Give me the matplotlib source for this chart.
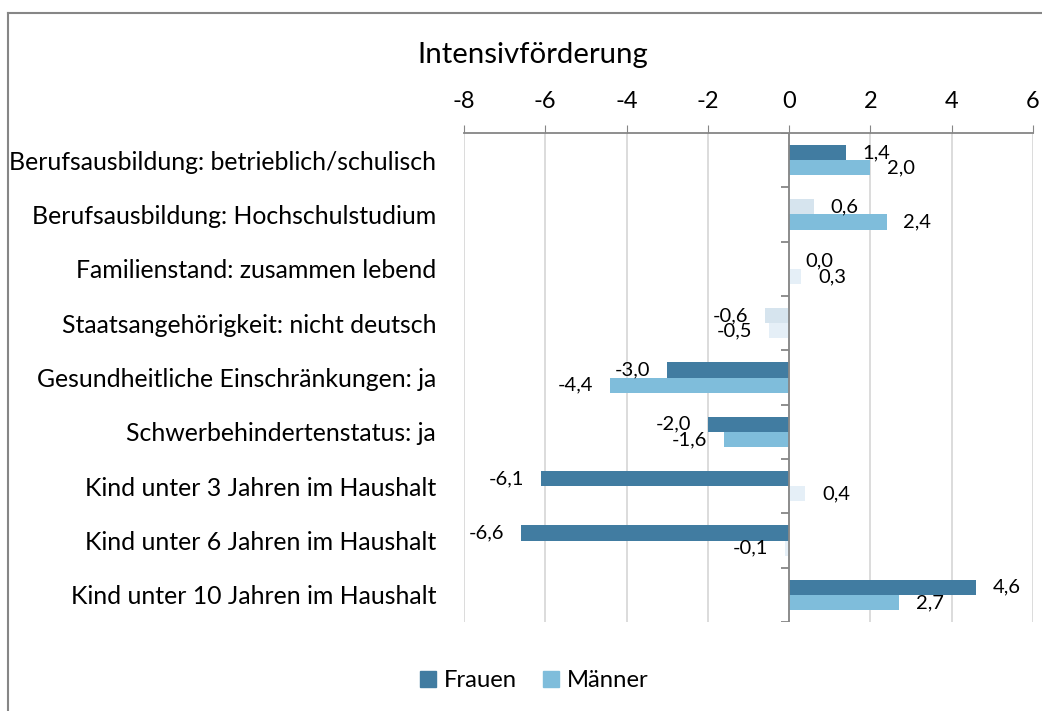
import matplotlib
matplotlib.use("Agg")
import matplotlib.pyplot as plt
from matplotlib.lines import Line2D
from matplotlib.patches import Patch
import numpy as np

plt.rcParams['font.family'] = ['Lato', 'DejaVu Sans']
plt.rcParams['axes.unicode_minus'] = False

categories = [
    "Berufsausbildung: betrieblich/schulisch",
    "Berufsausbildung: Hochschulstudium",
    "Familienstand: zusammen lebend",
    "Staatsangehörigkeit: nicht deutsch",
    "Gesundheitliche Einschränkungen: ja",
    "Schwerbehindertenstatus: ja",
    "Kind unter 3 Jahren im Haushalt",
    "Kind unter 6 Jahren im Haushalt",
    "Kind unter 10 Jahren im Haushalt",
]
frauen = [1.4, 0.6, 0.0, -0.6, -3.0, -2.0, -6.1, -6.6, 4.6]
maenner = [2.0, 2.4, 0.3, -0.5, -4.4, -1.6, 0.4, -0.1, 2.7]
# significant effects are drawn in full colour, the rest pale
frauen_sig = [True, False, False, False, True, True, True, True, True]
maenner_sig = [True, True, False, False, True, True, False, False, True]

c_frauen = "#417CA1"
c_maenner = "#7FBDDB"
c_frauen_pale = "#D6E4EE"
c_maenner_pale = "#E5EFF7"

fig = plt.figure(figsize=(10.42, 7.11), dpi=100)
ax = fig.add_axes([0.4453, 0.125, 0.9914 - 0.4453, 0.813 - 0.125])

y = np.arange(len(categories))
h = 0.28

cols_f = [c_frauen if s else c_frauen_pale for s in frauen_sig]
cols_m = [c_maenner if s else c_maenner_pale for s in maenner_sig]
ax.barh(y - h / 2, frauen, height=h, color=cols_f, zorder=3)
ax.barh(y + h / 2, maenner, height=h, color=cols_m, zorder=3)

for yi, v in zip(y - h / 2, frauen):
    off = 12 if v >= 0 else -12
    ax.annotate(f"{v:.1f}".replace(".", ","), (v, yi), xytext=(off, 0),
                textcoords="offset points", ha="left" if v >= 0 else "right",
                va="center", fontsize=14.5)
for yi, v in zip(y + h / 2, maenner):
    off = 12 if v >= 0 else -12
    ax.annotate(f"{v:.1f}".replace(".", ","), (v, yi), xytext=(off, 0),
                textcoords="offset points", ha="left" if v >= 0 else "right",
                va="center", fontsize=14.5)

ax.set_xlim(-8, 6)
ax.set_ylim(len(categories) - 0.5, -0.5)
ax.set_xticks(np.arange(-8, 7, 2))
ax.xaxis.tick_top()
ax.tick_params(axis="x", direction="out", length=6, color="#868686",
               labelsize=17, pad=9)
ax.set_yticks(y)
ax.set_yticklabels(categories, fontsize=17.9)
ax.tick_params(axis="y", length=0, pad=20)

ax.grid(axis="x", color="#D9D9D9", linewidth=1.3, zorder=0)
for s in ["left", "right", "bottom"]:
    ax.spines[s].set_visible(False)
ax.spines["top"].set_color("#868686")
ax.spines["top"].set_linewidth(1.3)

# vertical zero axis with category boundary ticks
ax.axvline(0, color="#868686", linewidth=1.3, zorder=4)
bounds = np.arange(len(categories) + 1) - 0.5
ax.hlines(bounds, -0.2, 0, color="#868686", linewidth=1.3, zorder=4)

fig.text(0.511, 0.922, "Intensivförderung", ha="center", va="center",
         fontsize=21.2)

handles = [Patch(color=c_frauen), Patch(color=c_maenner)]
fig.legend(handles, ["Frauen", "Männer"], loc="center",
           bbox_to_anchor=(0.513, 0.043), ncol=2, frameon=False,
           fontsize=17.2, handlelength=0.65, handleheight=0.65,
           handletextpad=0.35, columnspacing=1.1)

# outer chart frame (only left and top edges visible)
fig.add_artist(Line2D([8 / 1042, 8 / 1042], [0, 1 - 12.5 / 711],
                      color="#868686", linewidth=1.5))
fig.add_artist(Line2D([8 / 1042, 1], [1 - 12.5 / 711, 1 - 12.5 / 711],
                      color="#868686", linewidth=1.5))

fig.savefig("out.png", dpi=100)
